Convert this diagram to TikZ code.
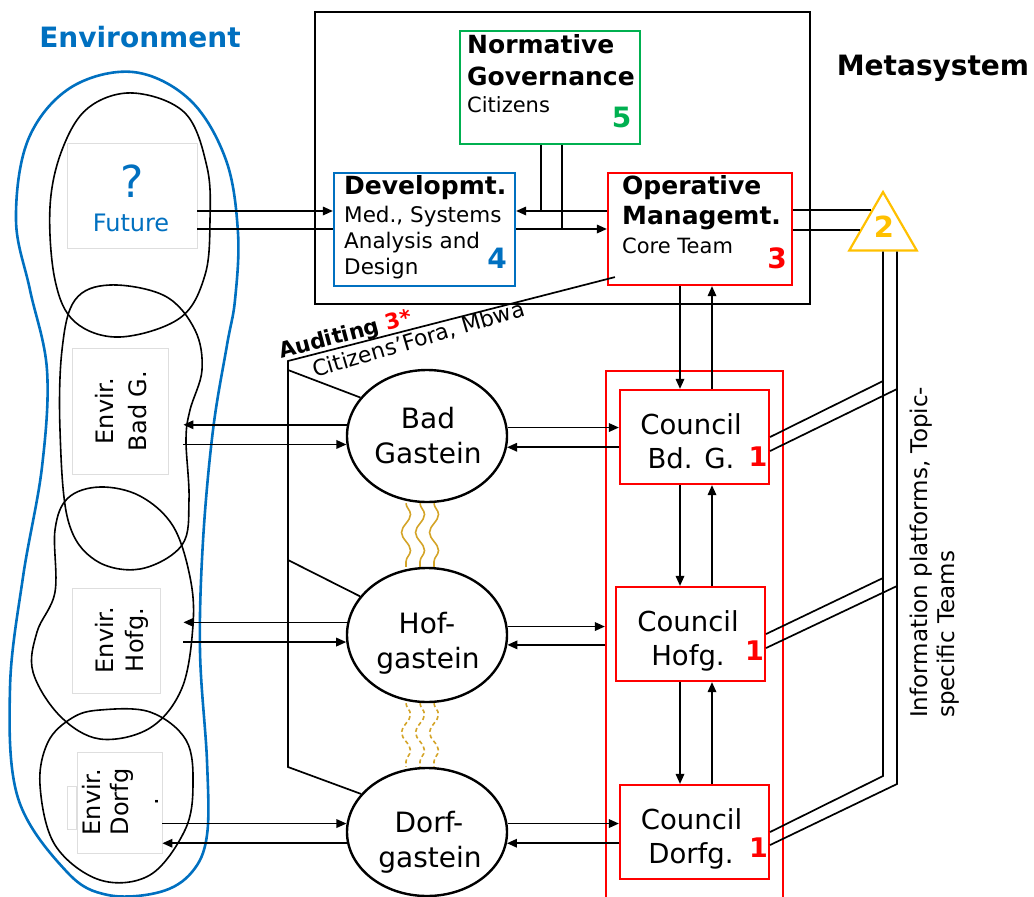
\documentclass[tikz,border=0pt]{standalone}
\usepackage{fontspec}
\setmainfont{DejaVu Sans}
\usetikzlibrary{arrows.meta,shapes.geometric,calc,decorations.pathmorphing}
\definecolor{envblue}{RGB}{0,112,192}
\definecolor{normgreen}{RGB}{0,176,80}
\definecolor{opred}{RGB}{255,0,0}
\definecolor{triyellow}{RGB}{255,192,0}
\definecolor{wavegold}{RGB}{212,164,40}
\definecolor{envgray}{RGB}{222,222,222}
\newcommand{\myfs}[1]{\fontsize{#1}{#1}\selectfont}
\tikzset{
  conn/.style={line width=1.7pt},
  arr/.style={conn,-{Triangle[length=10pt,width=8.5pt]}},
  envbox/.style={draw=envgray,fill=white,line width=0.8pt,inner sep=0pt},
  blob/.style={line width=1.6pt},
  colbox/.style={line width=2.2pt,fill=white,inner sep=0pt},
  txt/.style={inner sep=0pt,anchor=base},
  ltxt/.style={inner sep=0pt,anchor=base west},
  village/.style={ellipse,draw,line width=2.4pt,fill=white,inner sep=0pt,minimum width=160pt},
  council/.style={colbox,draw=opred,minimum width=149pt,minimum height=94pt},
  wave/.style={draw=wavegold,line width=1.6pt,decorate,decoration={snake,segment length=36pt,amplitude=4.5pt}},
}
\begin{document}
\begin{tikzpicture}[x=1pt,y=-1pt]
\useasboundingbox (0,0) rectangle (1034,897);

% environment outline
\draw[envblue,line width=2.6pt] plot[smooth cycle,tension=0.6] coordinates {
 (133,72) (190,100) (226,160) (238,233) (235,300) (227,345) (213,430) (203,541)
 (200,651) (207,761) (207,835) (192,872) (160,892) (108,895) (67,872) (18,798)
 (10,688) (23,577) (42,467) (47,370) (30,290) (16,220) (28,140) (70,88)};

% local environments
\draw[blob] plot[smooth cycle,tension=0.6] coordinates {
 (133,93) (185,113) (207,167) (210,220) (205,275) (180,318) (120,337) (75,322)
 (55,280) (50,207) (62,150) (88,108)};
\draw[blob] plot[smooth cycle,tension=0.6] coordinates {
 (110,285) (165,296) (195,330) (202,370) (190,410) (186,440) (189,500) (182,545)
 (140,569) (95,560) (68,520) (60,430) (62,350) (75,300)};
\draw[blob] plot[smooth cycle,tension=0.6] coordinates {
 (100,487) (140,496) (173,526) (190,577) (193,625) (182,688) (150,728) (100,739)
 (60,716) (33,672) (37,632) (55,592) (55,530) (68,498)};
\draw[blob] plot[smooth cycle,tension=0.6] coordinates {
 (100,710) (150,712) (186,740) (193,785) (185,830) (150,875) (100,880) (55,845)
 (40,785) (48,742) (72,718)};

% environment boxes
\node[envbox,minimum width=130pt,minimum height=105pt] (fut) at (132,195.5) {};
\node[envbox,minimum width=96pt,minimum height=126pt] (envbad) at (120,411) {};
\node[envbox,minimum width=88pt,minimum height=105pt] (envhof) at (116,640.5) {};
\node[envbox,minimum width=9pt,minimum height=43pt] (envtab) at (71.5,807.5) {};
\node[envbox,minimum width=85pt,minimum height=101pt] (envdorf) at (119.5,802.5) {};

% metasystem
\node[draw,line width=2.5pt,minimum width=495pt,minimum height=292pt,inner sep=0pt] (meta) at (562.5,158) {};
\node[colbox,draw=normgreen,minimum width=180pt,minimum height=113pt] (norm) at (550,87.5) {};
\node[colbox,draw=envblue,minimum width=181pt,minimum height=113pt] (dev) at (424.5,229.5) {};
\node[colbox,draw=opred,minimum width=184pt,minimum height=112pt] (op) at (700,229) {};
\node[regular polygon,regular polygon sides=3,draw=triyellow,line width=2.2pt,fill=white,
      minimum size=78pt,inner sep=0pt] (tri) at (883,231) {};

% councils
\node[draw=opred,line width=2.2pt,minimum width=177pt,minimum height=540pt,inner sep=0pt] (cnl) at (694.5,641) {};
\node[council] (bdg) at (694.5,437) {};
\node[council] (hfg) at (690.5,634) {};
\node[council] (dfg) at (694.5,832) {};

% villages
\node[village,minimum height=132pt] (bad) at (427,436) {};
\node[village,minimum height=134pt] (hof) at (427,635) {};
\node[village,minimum height=128pt] (dorf) at (427,832) {};

% coupling between villages
\foreach \d in {-21,-7,7} {
  \draw[wave] ([xshift=\d pt]bad.south) -- ([xshift=\d pt]hof.north);
  \draw[wave,dash pattern=on 4pt off 3pt] ([xshift=\d pt]hof.south) -- ([xshift=\d pt]dorf.north);
}

% metasystem channels
\coordinate (yA) at (0,211);
\coordinate (yB) at (0,229);
\coordinate (nA) at (541,0);
\coordinate (nB) at (562,0);
\draw[arr] (fut.east |- yA) -- (dev.west |- yA);
\draw[conn] (fut.east |- yB) -- (dev.west |- yB);
\draw[arr] (op.west |- yA) -- (dev.east |- yA);
\draw[arr] (dev.east |- yB) -- (op.west |- yB);
\draw[conn] (norm.south -| nA) -- (yA -| nA);
\draw[conn] (norm.south -| nB) -- (yB -| nB);
\draw[conn] (op.east |- tri.119) -- (tri.119);
\draw[conn] (op.east |- tri.177) -- (tri.177);

% information platforms
\coordinate (L1) at (tri.south);
\coordinate (L2) at ([xshift=14pt]tri.south);
\draw[conn] (L1) -- ($(L1 |- dfg.east)+(0,-56)$) -- (dfg.east);
\draw[conn] (L2) -- ($(L2 |- dfg.east)+(0,-48)$) -- ([yshift=-13pt]dfg.east);
\draw[conn] (bdg.east) -- ($(L1 |- bdg.east)+(0,-56)$);
\draw[conn] ([yshift=-14pt]bdg.east) -- ($(L2 |- bdg.east)+(0,-48)$);
\draw[conn] (hfg.east) -- ($(L1 |- hfg.east)+(0,-56)$);
\draw[conn] ([yshift=-14pt]hfg.east) -- ($(L2 |- hfg.east)+(0,-48)$);

% vertical command channels
\coordinate (vd) at (680,0);
\coordinate (vu) at (712,0);
\draw[arr] (op.south -| vd) -- (bdg.north -| vd);
\draw[arr] (bdg.north -| vu) -- (op.south -| vu);
\draw[arr] (bdg.south -| vd) -- (hfg.north -| vd);
\draw[arr] (hfg.north -| vu) -- (bdg.south -| vu);
\draw[arr] (hfg.south -| vd) -- (dfg.north -| vd);
\draw[arr] (dfg.north -| vu) -- (hfg.south -| vu);

% village <-> environment
\coordinate (eb) at ([xshift=15pt]envbad.east);
\coordinate (eh) at ([xshift=23pt]envhof.east);
\draw[arr] (bad.172) -- (bad.172 -| eb);
\draw[arr] (bad.186 -| eb) -- (bad.186);
\draw[arr] (hof.171) -- (hof.171 -| eh);
\draw[arr] (hof.185 -| eh) -- (hof.185);
\draw[arr] (dorf.174 -| envdorf.east) -- (dorf.174);
\draw[arr] (dorf.188) -- (dorf.188 -| envdorf.east);

% village <-> council
\draw[arr] (bad.6) -- (bad.6 -| bdg.west);
\draw[arr] (bad.352 -| bdg.west) -- (bad.352);
\draw[arr] (hof.6) -- (hof.6 -| cnl.west);
\draw[arr] (hof.353 -| cnl.west) -- (hof.353);
\draw[arr] (dorf.6) -- (dorf.6 -| dfg.west);
\draw[arr] (dorf.352 -| dfg.west) -- (dorf.352);

% auditing channel
\coordinate (aud0) at ([xshift=8pt,yshift=9pt]op.south west);
\coordinate (audT) at (288,361);
\coordinate (audb) at (288,370);
\coordinate (audh) at (288,560);
\coordinate (audB) at (288,767);
\draw[conn] (aud0) -- (audT) -- (audB) -- (dorf.150);
\draw[conn] (audb) -- (bad.150);
\draw[conn] (audh) -- (hof.150);

% labels
\node[txt,text=envblue,font=\myfs{28}\bfseries] (tEnv) at (140,47) {Environment};
\node[txt,font=\myfs{28}\bfseries] (tMeta) at (933,75) {Metasystem};
\node[txt,text=envblue,font=\myfs{44}] (tQ) at (132,197) {?};
\node[txt,text=envblue,font=\myfs{24}] (tFut) at (131,231) {Future};

\node[ltxt,font=\myfs{25}\bfseries] (tN1) at (467,53) {Normative};
\node[ltxt,font=\myfs{25}\bfseries] (tN2) at (467,85) {Governance};
\node[ltxt,font=\myfs{21}] (tN3) at (467,112) {Citizens};
\node[txt,text=normgreen,font=\myfs{28}\bfseries] (tN5) at (621.5,127) {5};

\node[ltxt,font=\myfs{25}\bfseries] (tD1) at (344,194) {Developmt.};
\node[ltxt,font=\myfs{21.5}] (tD2) at (344,222) {Med., Systems};
\node[ltxt,font=\myfs{21.5}] (tD3) at (344,248) {Analysis and};
\node[ltxt,font=\myfs{21.5}] (tD4) at (344,274) {Design};
\node[txt,text=envblue,font=\myfs{28}\bfseries] (tD5) at (497,268) {4};

\node[ltxt,font=\myfs{25}\bfseries] (tO1) at (622,194) {Operative};
\node[ltxt,font=\myfs{25}\bfseries] (tO2) at (622,224) {Managemt.};
\node[ltxt,font=\myfs{21}] (tO3) at (622,253) {Core Team};
\node[txt,text=opred,font=\myfs{28}\bfseries] (tO4) at (777,268) {3};

\node[txt,text=triyellow,font=\myfs{29}\bfseries] (tT) at (884,237) {2};

\node[txt,font=\myfs{27.5}] (tC1) at (691,434) {Council};
\node[txt,font=\myfs{27.5}] (tC2) at (691,468.5) {Bd. G.};
\node[txt,text=opred,font=\myfs{27}\bfseries] (tC3) at (758,466) {1};
\node[txt,font=\myfs{27.5}] (tC4) at (688,631) {Council};
\node[txt,font=\myfs{27.5}] (tC5) at (688,665.5) {Hofg.};
\node[txt,text=opred,font=\myfs{27}\bfseries] (tC6) at (754.5,660) {1};
\node[txt,font=\myfs{27.5}] (tC7) at (691.5,829) {Council};
\node[txt,font=\myfs{27.5}] (tC8) at (691,863) {Dorfg.};
\node[txt,text=opred,font=\myfs{27}\bfseries] (tC9) at (758.5,857) {1};

\node[txt,font=\myfs{28}] (tV1) at (428,428) {Bad};
\node[txt,font=\myfs{28}] (tV2) at (428,463) {Gastein};
\node[txt,font=\myfs{28}] (tV3) at (427,633) {Hof-};
\node[txt,font=\myfs{28}] (tV4) at (428,668) {gastein};
\node[txt,font=\myfs{28}] (tV5) at (429,832) {Dorf-};
\node[txt,font=\myfs{28}] (tV6) at (430,867) {gastein};

\node[txt,rotate=90,font=\myfs{24}] (tE1) at (113,411) {Envir.};
\node[txt,rotate=90,font=\myfs{24}] (tE2) at (146,411) {Bad G.};
\node[txt,rotate=90,font=\myfs{24}] (tE3) at (113,640) {Envir.};
\node[txt,rotate=90,font=\myfs{24}] (tE4) at (143,640) {Hofg.};
\node[txt,rotate=90,font=\myfs{24}] (tE5) at (100,802) {Envir.};
\node[txt,rotate=90,font=\myfs{24}] (tE6) at (128,802) {Dorfg};
\node[txt,rotate=90,font=\myfs{24}] (tE7) at (158,802) {.};

\node[ltxt,rotate=90,font=\myfs{23}] (tI1) at (927,718) {Information platforms, Topic-};
\node[ltxt,rotate=90,font=\myfs{23}] (tI2) at (954,718) {specific Teams};

\node[ltxt,rotate=15,font=\myfs{21.5}\bfseries] (tA1) at (281,359) {Auditing \textcolor{opred}{3*}};
\node[ltxt,rotate=16.5,font=\myfs{22}] (tA2) at (315,378) {Citizens’Fora, Mbwa};
\end{tikzpicture}
\end{document}
